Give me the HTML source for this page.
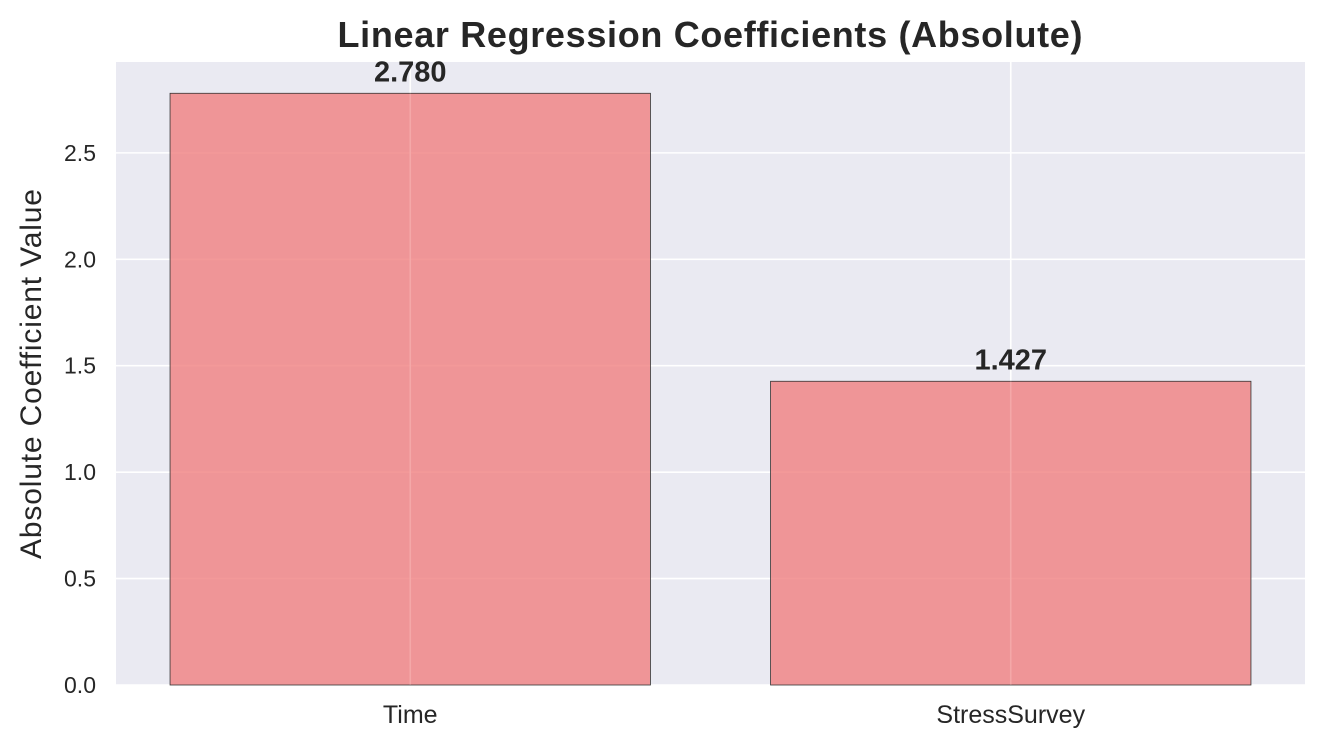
<!DOCTYPE html>
<html><head><meta charset="utf-8"><style>
body{margin:0;background:#fff;}
svg text{font-family:"Liberation Sans",Arial,sans-serif;fill:#262626;}
</style></head><body>
<svg width="1323" height="747" xmlns="http://www.w3.org/2000/svg">
<rect x="116" y="62" width="1189" height="623" fill="#eaeaf2"/>
<g id="grid"></g>
<g id="bars"></g>
<g id="ticks"></g>
<text x="710" y="47" text-anchor="middle" font-size="36" font-weight="bold" textLength="745">Linear Regression Coefficients (Absolute)</text>
<text transform="translate(41,374) rotate(-90)" text-anchor="middle" font-size="30" textLength="370">Absolute Coefficient Value</text>
</svg>
<script>
const categories=["Time","StressSurvey"];
const values=[2.780,1.427];
const labels=["2.780","1.427"];
const yTicks=[0,0.5,1.0,1.5,2.0,2.5];
const yTickLabels=["0.0","0.5","1.0","1.5","2.0","2.5"];
const NS="http://www.w3.org/2000/svg";
const px0=116,px1=1305,py0=685,py1=62;
const xmin=-0.49,xmax=1.49,ymax=2.927;
const xs=v=>px0+(v-xmin)/(xmax-xmin)*(px1-px0);
const ys=v=>py0-v/ymax*(py0-py1);
function mk(t,a,p){const e=document.createElementNS(NS,t);for(const k in a)e.setAttribute(k,a[k]);p.appendChild(e);return e;}
const grid=document.getElementById('grid'),bars=document.getElementById('bars'),ticks=document.getElementById('ticks');
yTicks.forEach((t,i)=>{
 const l=mk('line',{x1:px0,x2:px1,y1:ys(t),y2:ys(t),stroke:'#fff','stroke-width':1.6},grid);
 
 
 const tx=mk('text',{x:px0-20,y:ys(t)+8,'text-anchor':'end','font-size':23},ticks);
 tx.textContent=yTickLabels[i];
 
 
});
categories.forEach((c,i)=>{
 const l=mk('line',{x1:xs(i),x2:xs(i),y1:py1,y2:py0,stroke:'#fff','stroke-width':1.6},grid);
 
 
 const x0=xs(i-0.4),x1=xs(i+0.4),y=ys(values[i]);
 const r=mk('rect',{x:x0,y:y,width:x1-x0,height:py0-y,fill:'#f08080','fill-opacity':0.8,stroke:'#333','stroke-width':0.8},bars);
 
 
 const gl=mk('line',{x1:xs(i),x2:xs(i),y1:y,y2:py0,stroke:'#fff','stroke-opacity':0.15,'stroke-width':1.6},bars);
 
 
 const vt=mk('text',{x:xs(i),y:y-12,'text-anchor':'middle','font-size':29,'font-weight':'bold'},bars);
 vt.textContent=labels[i];
 
 
 const xt=mk('text',{x:xs(i),y:py0+38,'text-anchor':'middle','font-size':25},ticks);
 xt.textContent=c;
 
 
});
</script>
</body></html>
